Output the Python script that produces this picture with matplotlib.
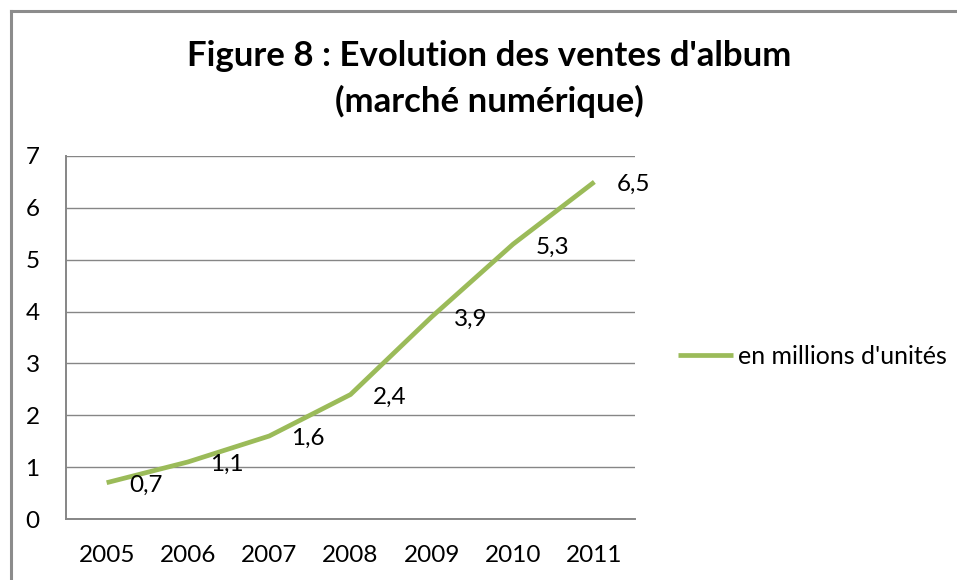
import matplotlib
matplotlib.use("Agg")
import matplotlib.pyplot as plt
from matplotlib.lines import Line2D

plt.rcParams["font.family"] = ["Lato", "DejaVu Sans"]

# data
years = ["2005", "2006", "2007", "2008", "2009", "2010", "2011"]
ventes = [0.7, 1.1, 1.6, 2.4, 3.9, 5.3, 6.5]
labels = ["0,7", "1,1", "1,6", "2,4", "3,9", "5,3", "6,5"]

green = "#9BBB59"
gray = "#868686"

fig = plt.figure(figsize=(9.57, 5.80), dpi=100)
ax = fig.add_axes([66 / 957, 1 - 519 / 580, (635 - 66) / 957, (519 - 156) / 580])

x = list(range(len(years)))
ax.plot(x, ventes, color=green, linewidth=3.4, solid_capstyle="butt",
        label="en millions d'unités")

for xi, yi, lab in zip(x, ventes, labels):
    ax.annotate(lab, (xi, yi), xytext=(16, -2), textcoords="offset points",
                ha="left", va="center", fontsize=17.5, color="black")

ax.set_xlim(-0.5, len(years) - 0.5)
ax.set_ylim(0, 7)
ax.set_yticks(range(0, 8))
ax.set_xticks(x)
ax.set_xticklabels(years)
ax.tick_params(axis="both", length=0, labelsize=17.5)
ax.tick_params(axis="y", pad=19)
ax.tick_params(axis="x", pad=19)

ax.grid(axis="y", color=gray, linewidth=1.0)
ax.set_axisbelow(True)
for side in ["top", "right"]:
    ax.spines[side].set_visible(False)
for side in ["left", "bottom"]:
    ax.spines[side].set_color(gray)
    ax.spines[side].set_linewidth(1.4)

fig.text(489 / 957, 1 - 56 / 580, "Figure 8 : Evolution des ventes d'album",
         ha="center", va="center", fontsize=25, fontweight="bold")
fig.text(489 / 957, 1 - 101 / 580, "(marché numérique)",
         ha="center", va="center", fontsize=25, fontweight="bold")

leg = fig.legend(loc="center left", bbox_to_anchor=(668 / 957, 1 - 356 / 580),
                 frameon=False, fontsize=18, handlelength=2.2,
                 handletextpad=0.22, borderaxespad=0)

# outer frame of the chart area
fig.add_artist(Line2D([10.5 / 957, 10.5 / 957], [0, 1 - 10.5 / 580],
                      color="#8c8c8c", linewidth=2.2))
fig.add_artist(Line2D([10.5 / 957, 1], [1 - 10.5 / 580, 1 - 10.5 / 580],
                      color="#8c8c8c", linewidth=2.2))

fig.savefig("out.png", dpi=100)
